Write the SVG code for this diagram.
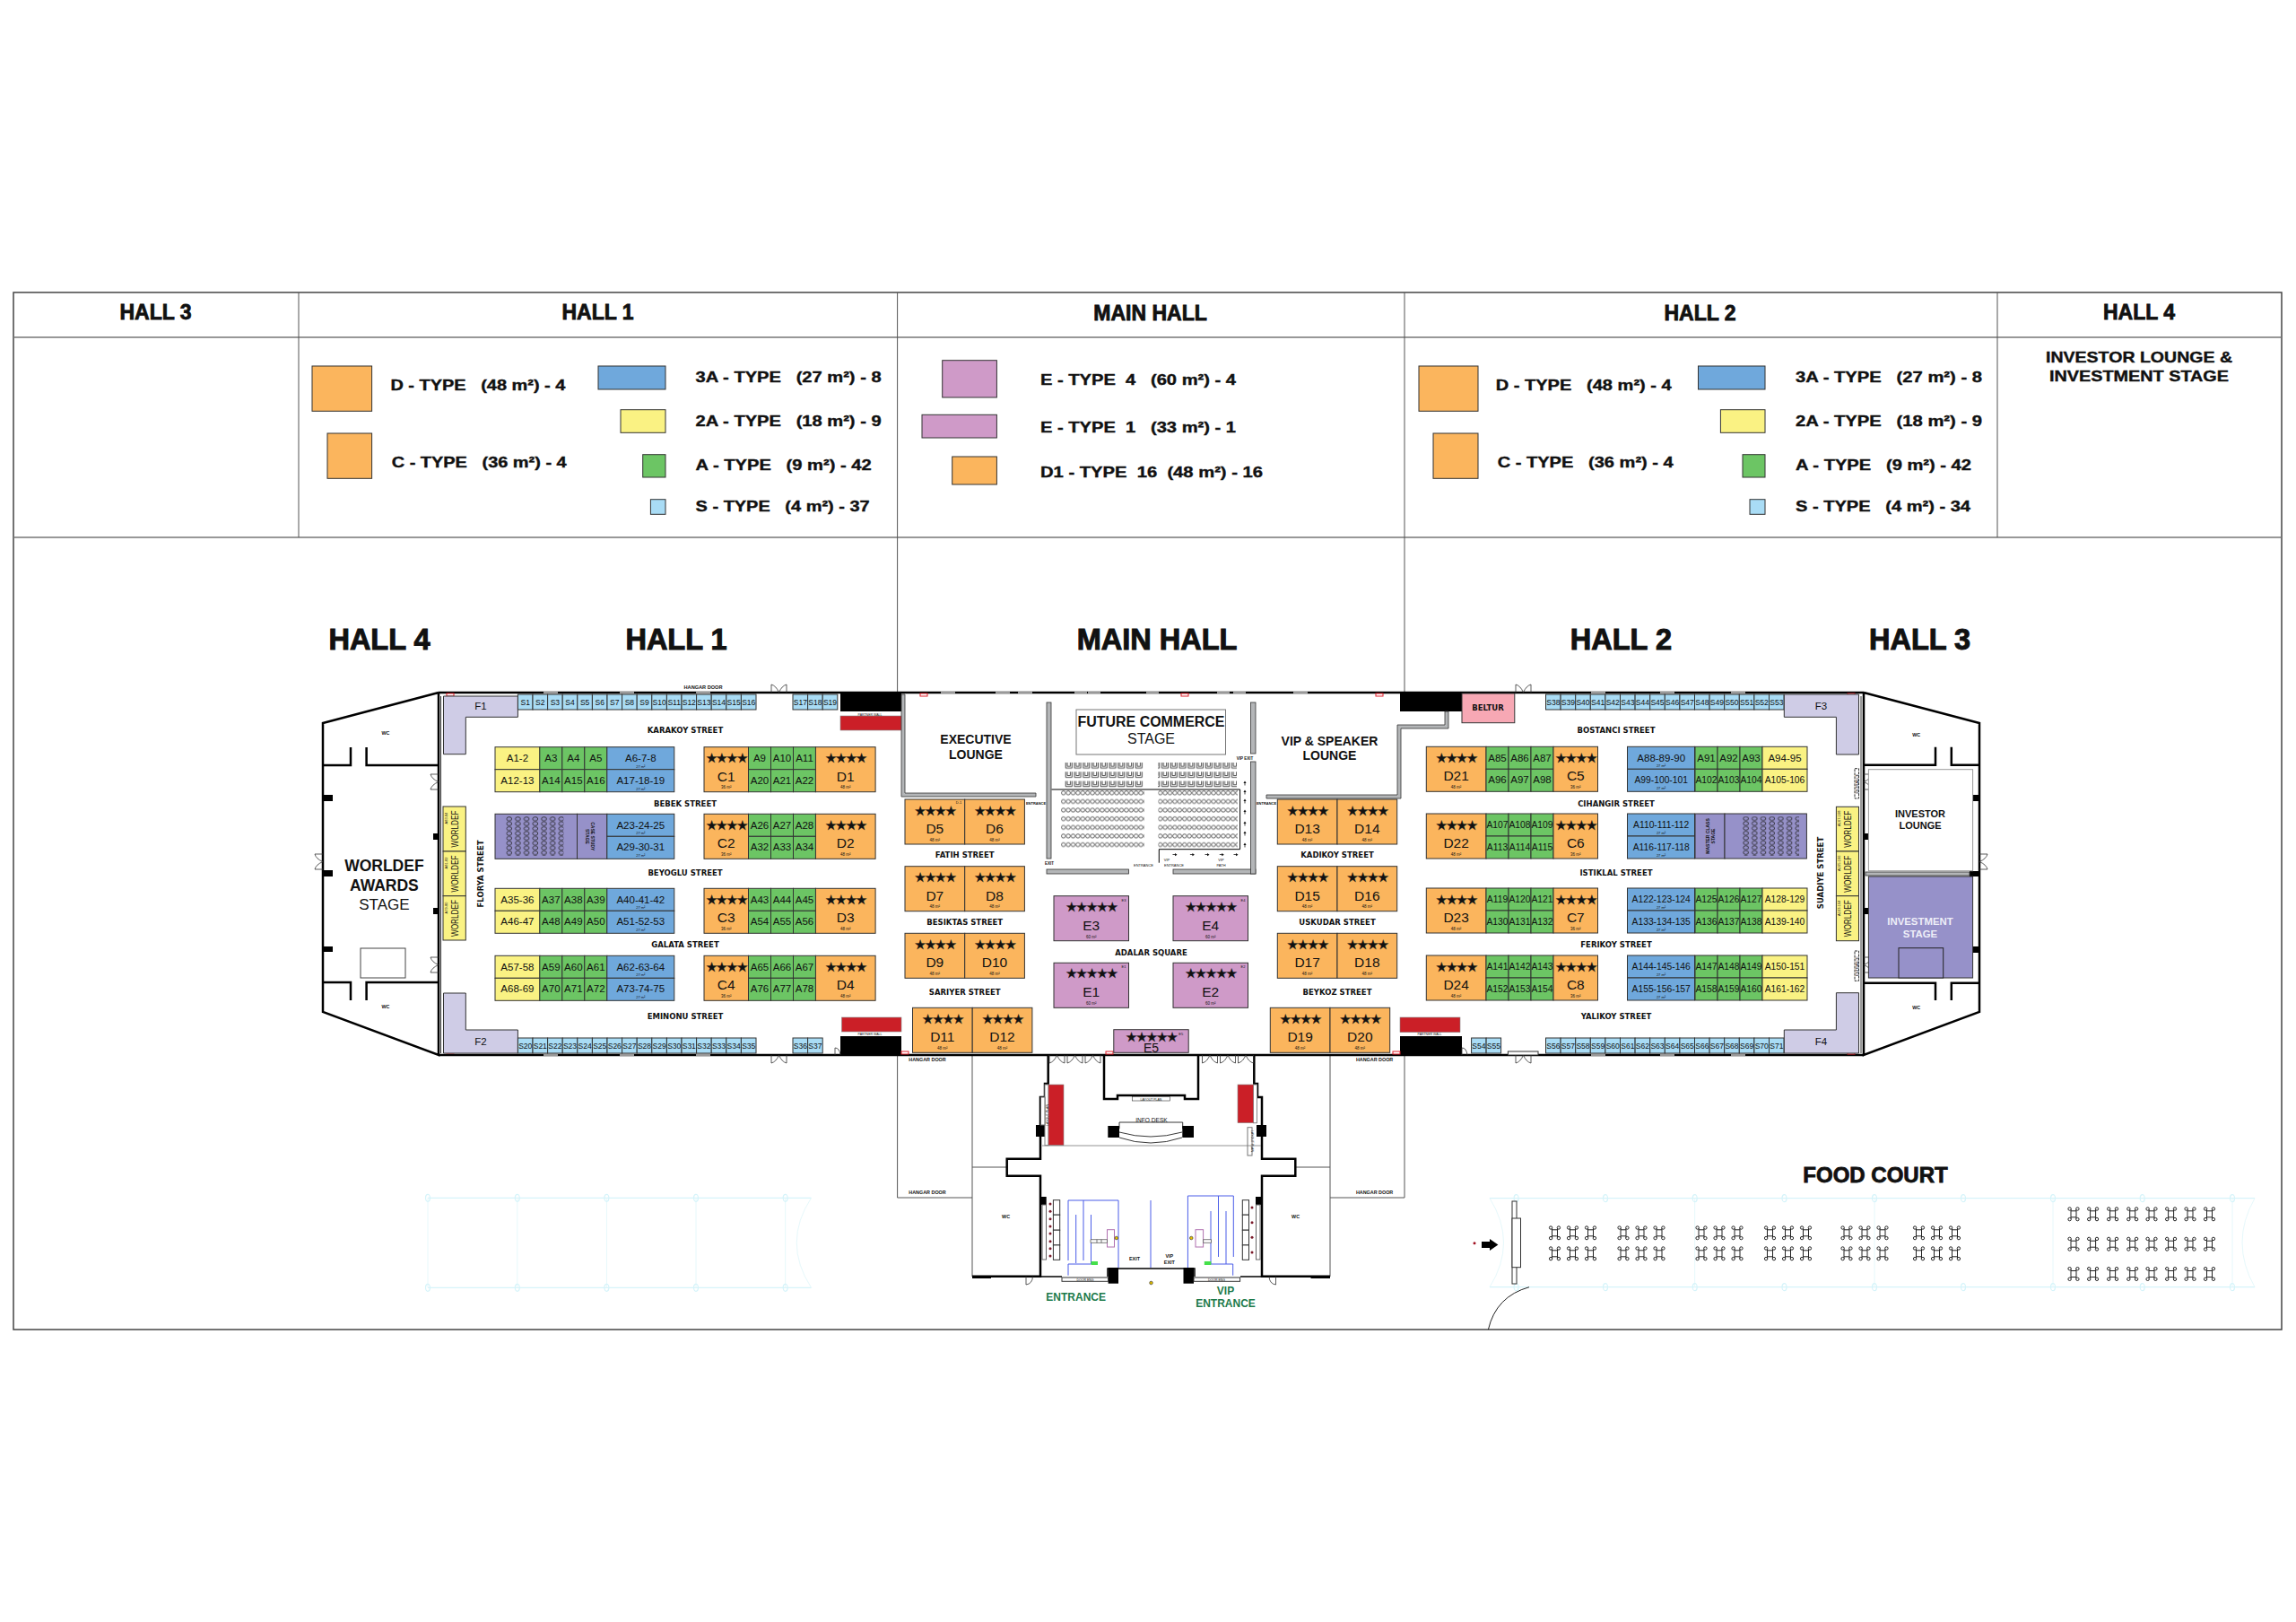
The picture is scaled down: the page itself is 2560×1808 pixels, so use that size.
<svg xmlns="http://www.w3.org/2000/svg" width="2560" height="1808" viewBox="0 0 2560 1808">
<style>
text{font-family:"Liberation Sans",Arial,sans-serif;text-anchor:middle;fill:#111}
.h{font-size:23px;font-weight:700;stroke:#111;stroke-width:.8}
.H{font-size:32.5px;font-weight:700;stroke:#111;stroke-width:1}
.lg{font-size:17px;font-weight:700;text-anchor:start;stroke:#111;stroke-width:.4;white-space:pre}
.k{font-family:"DejaVu Sans",sans-serif;font-size:8.5px;font-weight:700}
.a{font-size:11.5px}.a3{font-size:10.3px}.n{font-size:15.5px}.m{font-size:4.5px}.sl{font-size:8.5px}.t{font-size:4px}
.tb{font-size:5.4px;font-weight:700}
.wd{font-size:11px}
.star{font-family:"DejaVu Sans",sans-serif;font-size:14.5px;letter-spacing:-1.6px;stroke:#111;stroke-width:.3}
.o,.g,.y,.b,.s,.p,.v,.vv{stroke:#333;stroke-width:1}
rect.w:not([stroke]){stroke:#333}
.o{fill:#fbb55d}.g{fill:#6cc564}.y{fill:#faf283}.b{fill:#6fa8dc}.s{fill:#a9dcf5}.p{fill:#cf9ac8}.v{fill:#cfcce6}.vv{fill:#9691c9}.w{fill:#fff}
.r{fill:#cb1f27;stroke:#888;stroke-width:.6}.K{fill:#000}.gy{fill:#b4b6b8;stroke:#333;stroke-width:.8}
.L{fill:none;stroke:#000;stroke-width:2.5}.T{fill:none;stroke:#555;stroke-width:1}.bl{fill:none;stroke:#4a5de8;stroke-width:1}
.fc{fill:none;stroke:#d6f4fa;stroke-width:1.2}.fc2{fill:none;stroke:#e6f8fb;stroke-width:1}
.mk{fill:#fff;stroke:#e01f2a;stroke-width:1}
.d{fill:none;stroke:#333;stroke-width:.8}
.tick{fill:#999}
</style>
<defs>
<pattern id="rings" width="5.4" height="9.62" patternUnits="userSpaceOnUse" x="1183" y="881"><circle cx="2.7" cy="2.8" r="2.2" fill="#fff" stroke="#222" stroke-width=".7"/></pattern>
<pattern id="chairs" width="9.75" height="10.3" patternUnits="userSpaceOnUse" x="1187" y="849"><path d="M1.2 1V7.2H8.2V1M3 1V5.2H6.4V1" fill="#fff" stroke="#222" stroke-width=".8"/></pattern>
<pattern id="cols" width="9.7" height="5.4" patternUnits="userSpaceOnUse" x="564" y="910"><ellipse cx="4.6" cy="2.7" rx="2.9" ry="2.1" fill="none" stroke="#222" stroke-width=".8"/></pattern>
<g id="C"><rect class="o" width="49.5" height="50"/><text class="star" x="24.75" y="17.5">★★★★</text><text class="m" x="24.75" y="46.5">36 m²</text></g>
<g id="D"><rect class="o" width="66.7" height="50"/><text class="star" x="33.3" y="17.5">★★★★</text><text class="m" x="33.3" y="46.5">48 m²</text></g>
<g id="E"><rect class="p" width="83.5" height="50"/><text class="star" x="41.7" y="17">★★★★★</text><text class="m" x="41.7" y="47">60 m²</text></g>
<g id="G3"><rect class="g" width="25" height="25"/><rect class="g" x="25" width="25" height="25"/><rect class="g" x="50" width="25" height="25"/><rect class="g" y="25" width="25" height="25"/><rect class="g" x="25" y="25" width="25" height="25"/><rect class="g" x="50" y="25" width="25" height="25"/></g>
<g id="Bb"><rect class="b" width="75" height="25"/><rect class="b" y="25" width="75" height="25"/></g>
<g id="Yy"><rect class="y" width="50" height="25"/><rect class="y" y="25" width="50" height="25"/></g>
<g id="cd1"><use href="#C"/><use href="#G3" x="49.5"/><use href="#D" x="124.4"/></g>
<g id="dc2"><use href="#D"/><use href="#G3" x="66.7"/><use href="#C" x="141.7"/></g>
<g id="h1a"><use href="#Yy"/><use href="#G3" x="49.8"/><use href="#Bb" x="124.8"/></g>
<g id="h2a"><use href="#Bb"/><use href="#G3" x="75.5"/><use href="#Yy" x="150.5"/></g>
<g id="bm"><text class="t" x="37.5" y="23">27 m²</text><text class="t" x="37.5" y="48">27 m²</text></g>
<g id="s16"><rect class="s" width="16.6" height="17"/><rect class="s" x="16.6" width="16.6" height="17"/><rect class="s" x="33.2" width="16.6" height="17"/><rect class="s" x="49.8" width="16.6" height="17"/><rect class="s" x="66.4" width="16.6" height="17"/><rect class="s" x="83" width="16.6" height="17"/><rect class="s" x="99.6" width="16.6" height="17"/><rect class="s" x="116.2" width="16.6" height="17"/><rect class="s" x="132.8" width="16.6" height="17"/><rect class="s" x="149.4" width="16.6" height="17"/><rect class="s" x="166" width="16.6" height="17"/><rect class="s" x="182.6" width="16.6" height="17"/><rect class="s" x="199.2" width="16.6" height="17"/><rect class="s" x="215.8" width="16.6" height="17"/><rect class="s" x="232.4" width="16.6" height="17"/><rect class="s" x="249" width="16.6" height="17"/></g>
<path id="dd" class="d" d="M0 0V9Q5.5 7.5 8.5 0M17 0V9Q11.5 7.5 8.5 0"/>
<path id="ua" d="M0 -2.5L1.6 0H.4V2.5H-.4V0H-1.6Z" fill="#111"/>
<path id="ra" d="M2.5 0L0 -1.6V-.4H-2.5V.4H0V1.6Z" fill="#111"/>
<g id="t1" fill="#fff" stroke="#222" stroke-width="1"><path d="M-3 -5.5V5.5M3 -5.5V5.5M-3 -3.5H3M-3 3.5H3" fill="none"/><circle cx="-4.4" cy="-5.8" r="1.7"/><circle cx="4.4" cy="-5.8" r="1.7"/><circle cx="-4.4" cy="5.8" r="1.7"/><circle cx="4.4" cy="5.8" r="1.7"/></g>
<g id="t3"><use href="#t1"/><use href="#t1" x="20"/><use href="#t1" x="40"/></g>
<g id="t6"><use href="#t3"/><use href="#t3" y="23"/></g>
<g id="t8"><use href="#t1"/><use href="#t1" x="21.6"/><use href="#t1" x="43.6"/><use href="#t1" x="65.7"/><use href="#t1" x="87"/><use href="#t1" x="108.6"/><use href="#t1" x="130"/><use href="#t1" x="151.5"/></g>
<ellipse id="nd" rx="2.5" ry="4" class="fc"/>
</defs>
<rect width="2560" height="1808" fill="#fff"/>

<g id="table-frame">
<rect x="15" y="326" width="2529" height="1156" fill="none" stroke="#444" stroke-width="1.5"/>
<path d="M15 376H2544M15 599H2544" fill="none" stroke="#777" stroke-width="1.5"/>
<path class="T" d="M333 326V599M2227 326V599M1000.6 326V772M1566 326V772M1000.6 1176V1335H1084M1566 1176V1335H1483M1084 1176V1423M1483 1176V1423M1084 1301H1122M1444 1301H1483"/>
<text class="h" x="173.500" y="356">HALL 3</text>
<text class="h" x="666.500" y="356">HALL 1</text>
<text class="h" x="1282.600" y="357">MAIN HALL</text>
<text class="h" x="1895.500" y="357">HALL 2</text>
<text class="h" x="2385" y="356">HALL 4</text>
<text class="lg" style="text-anchor:middle" x="2385" y="404" textLength="208" lengthAdjust="spacingAndGlyphs">INVESTOR LOUNGE &amp;</text>
<text class="lg" style="text-anchor:middle" x="2385" y="425" textLength="200" lengthAdjust="spacingAndGlyphs">INVESTMENT STAGE</text>
</g>

<g id="legend">
<rect class="o" x="348" y="408" width="66.6" height="50.3"/><rect class="o" x="365" y="483" width="49.6" height="50.3"/>
<rect class="b" x="667" y="408" width="75" height="26"/><rect class="y" x="692" y="456.7" width="50" height="25.6"/><rect class="g" x="716.7" y="506.7" width="25.3" height="25.3"/><rect class="s" x="725.4" y="556.7" width="16.6" height="16.6"/>
<text class="lg" x="435.4" y="435" textLength="195" lengthAdjust="spacingAndGlyphs">D - TYPE   (48 m²) - 4</text>
<text class="lg" x="436.7" y="520.5" textLength="195" lengthAdjust="spacingAndGlyphs">C - TYPE   (36 m²) - 4</text>
<text class="lg" x="775.6" y="426" textLength="207" lengthAdjust="spacingAndGlyphs">3A - TYPE   (27 m²) - 8</text>
<text class="lg" x="775.6" y="474.5" textLength="207" lengthAdjust="spacingAndGlyphs">2A - TYPE   (18 m²) - 9</text>
<text class="lg" x="775.6" y="524" textLength="196" lengthAdjust="spacingAndGlyphs">A - TYPE   (9 m²) - 42</text>
<text class="lg" x="775.6" y="569.5" textLength="194" lengthAdjust="spacingAndGlyphs">S - TYPE   (4 m²) - 37</text>
<text class="lg" x="1160" y="429" textLength="218" lengthAdjust="spacingAndGlyphs">E - TYPE  4   (60 m²) - 4</text>
<text class="lg" x="1160" y="482" textLength="218" lengthAdjust="spacingAndGlyphs">E - TYPE  1   (33 m²) - 1</text>
<text class="lg" x="1160" y="532" textLength="248" lengthAdjust="spacingAndGlyphs">D1 - TYPE  16  (48 m²) - 16</text>
<text class="lg" x="1667.7" y="435" textLength="196" lengthAdjust="spacingAndGlyphs">D - TYPE   (48 m²) - 4</text>
<text class="lg" x="1669.7" y="520.5" textLength="196" lengthAdjust="spacingAndGlyphs">C - TYPE   (36 m²) - 4</text>
<text class="lg" x="2002" y="426" textLength="208" lengthAdjust="spacingAndGlyphs">3A - TYPE   (27 m²) - 8</text>
<text class="lg" x="2002" y="474.5" textLength="208" lengthAdjust="spacingAndGlyphs">2A - TYPE   (18 m²) - 9</text>
<text class="lg" x="2002" y="524" textLength="196" lengthAdjust="spacingAndGlyphs">A - TYPE   (9 m²) - 42</text>
<text class="lg" x="2002" y="569.5" textLength="195" lengthAdjust="spacingAndGlyphs">S - TYPE   (4 m²) - 34</text>
<rect class="p" x="1050.7" y="401.7" width="60.7" height="41.3"/><rect class="p" x="1028" y="462.3" width="83.4" height="25.7"/><rect class="o" x="1061.7" y="509" width="49.7" height="31"/>
<rect class="o" x="1582" y="408" width="66" height="50.3"/><rect class="o" x="1598" y="483" width="50" height="50.3"/>
<rect class="b" x="1893.5" y="408" width="74.5" height="26"/><rect class="y" x="1918.4" y="456.7" width="49.6" height="25.6"/><rect class="g" x="1943" y="506.7" width="25" height="25.3"/><rect class="s" x="1951" y="556.7" width="17" height="16.6"/>
</g>

<g id="hall-titles">
<text class="H" x="423" y="724">HALL 4</text><text class="H" x="754" y="724">HALL 1</text><text class="H" x="1290" y="724">MAIN HALL</text><text class="H" x="1807.4" y="724">HALL 2</text><text class="H" x="2140.6" y="724">HALL 3</text>
<text class="H" style="font-size:24px;stroke-width:.8" x="2091" y="1317.5">FOOD COURT</text>
</g>

<g id="walls">
<path class="L" d="M489 772H2078M489 1176H2078"/>
<path class="L" d="M489 772L360 806V1128L489 1176V772M2078 772L2207 806V1128L2078 1176V772"/>
<path d="M491.5 776V1174M2075 776V1174" fill="none" stroke="#333" stroke-width="1"/>
<path class="L" d="M360 853H391V833M408.6 833V853H489M360 1095H391V1115M408.6 1115V1095H489M2078 852.7H2158V832.7M2175.8 832.700V852.7H2207M2078 1095.7H2158V1115M2175.8 1115V1095.7H2207"/>
<g><rect class="K" x="360" y="886" width="11" height="7"/><rect class="K" x="360" y="970" width="11" height="7"/><rect class="K" x="360" y="1055" width="11" height="6"/><rect class="K" x="483" y="929" width="6" height="7"/><rect class="K" x="483" y="1012" width="6" height="7"/>
<rect class="K" x="2196" y="886" width="11" height="7"/><rect class="K" x="2196" y="971" width="11" height="6"/><rect class="K" x="2196" y="1055" width="11" height="7"/><rect class="K" x="2077" y="929" width="6" height="7"/><rect class="K" x="2077" y="1012" width="6" height="7"/>
<rect class="K" x="937" y="772" width="68" height="21"/><rect class="K" x="937" y="1155" width="68" height="21"/><rect class="K" x="1561" y="772" width="69" height="21"/><rect class="K" x="1561" y="1155" width="69" height="21"/></g>
<rect class="r" x="937" y="798" width="68" height="16"/><rect class="r" x="938.5" y="1134" width="66.5" height="16"/><rect class="r" x="1561" y="1134" width="67" height="16.7"/>
<text class="t" x="970" y="797.5" style="font-size:3.5px">PARTNER WALL</text><text class="t" x="970" y="1154" style="font-size:3.5px">PARTNER WALL</text><text class="t" x="1594" y="1154" style="font-size:3.5px">PARTNER WALL</text>
<path class="tick" d="M606 771h16v2h-16zM691 771h16v2h-16zM776 771h16v2h-16zM606 1175h16v2h-16zM691 1175h16v2h-16zM776 1175h16v2h-16zM1049 771h16v2h-16zM1110 771h16v2h-16zM1135 771h16v2h-16zM1198 771h14v2h-14zM1213 771h14v2h-14zM1278 771h14v2h-14zM1357 771h14v2h-14zM1375 771h14v2h-14zM1442 771h16v2h-16zM1774 771h16v2h-16zM1851 771h16v2h-16zM1930 771h16v2h-16zM1774 1175h16v2h-16zM1851 1175h16v2h-16zM1930 1175h16v2h-16z"/>
<rect class="mk" x="498" y="773" width="8" height="3"/><rect class="mk" x="498" y="1171" width="8" height="3"/><rect class="mk" x="1026" y="773" width="8" height="3"/><rect class="mk" x="1317" y="773" width="8" height="3"/><rect class="mk" x="1534" y="773" width="8" height="3"/><rect class="mk" x="1005" y="1172" width="8" height="3"/><rect class="mk" x="1233" y="1172" width="8" height="3"/><rect class="mk" x="1553" y="1172" width="8" height="3"/><rect class="mk" x="2060" y="773" width="8" height="2"/><rect class="mk" x="2060" y="1172" width="8" height="3"/>
<use href="#dd" transform="translate(860 772) scale(1 -1)"/><use href="#dd" x="860" y="1176"/><use href="#dd" x="1690" y="1176"/><use href="#dd" transform="translate(1690 772) scale(1 -1)"/>
<rect class="w" x="1681.4" y="1172" width="33.6" height="4"/>
<use href="#dd" transform="translate(489 863) rotate(90)"/><use href="#dd" transform="translate(489 1067) rotate(90)"/><use href="#dd" transform="translate(360 952) rotate(90)"/>
<use href="#dd" transform="translate(2078 880) rotate(-90)"/><use href="#dd" transform="translate(2078 1084) rotate(-90)"/><use href="#dd" transform="translate(2207 969) rotate(-90)"/>
<path class="d" d="M931 1176V1168Q936 1168 937 1176M1630 1176V1168Q1635 1168 1636 1176"/>
<text class="tb" x="784" y="768" style="font-size:5.6px">HANGAR DOOR</text>
</g>

<g id="hall-4">
<text class="tb" x="430" y="819">WC</text><text class="tb" x="430" y="1124">WC</text>
<rect class="w" x="402" y="1057" width="50" height="33" stroke="#444"/>
<text x="428.4" y="971" style="font-size:17.500px;font-weight:700">WORLDEF</text><text x="428.4" y="992.5" style="font-size:17.500px;font-weight:700">AWARDS</text><text x="428.4" y="1014" style="font-size:17px">STAGE</text>
</g>

<g id="hall-1">
<polygon class="v" points="494.5,776 577.4,776 577.4,799.3 519.3,799.3 519.3,840.7 494.5,840.7"/><text x="536" y="791" style="font-size:11.5px">F1</text>
<polygon class="v" points="494.5,1107 519.3,1107 519.3,1148 577.4,1148 577.4,1174 494.5,1174"/><text x="536" y="1165" style="font-size:11.5px">F2</text>
<g transform="translate(577.4 774)"><use href="#s16"/><text class="sl" x="8.3" y="11.5">S1</text><text class="sl" x="24.9" y="11.5">S2</text><text class="sl" x="41.5" y="11.5">S3</text><text class="sl" x="58.1" y="11.5">S4</text><text class="sl" x="74.7" y="11.5">S5</text><text class="sl" x="91.3" y="11.5">S6</text><text class="sl" x="107.9" y="11.5">S7</text><text class="sl" x="124.5" y="11.5">S8</text><text class="sl" x="141.1" y="11.5">S9</text><text class="sl" x="157.7" y="11.5">S10</text><text class="sl" x="174.3" y="11.5">S11</text><text class="sl" x="190.9" y="11.5">S12</text><text class="sl" x="207.5" y="11.5">S13</text><text class="sl" x="224.1" y="11.5">S14</text><text class="sl" x="240.7" y="11.5">S15</text><text class="sl" x="257.3" y="11.5">S16</text></g>
<g transform="translate(884 774)"><rect class="s" width="16.6" height="17"/><rect class="s" x="16.6" width="16.6" height="17"/><rect class="s" x="33.2" width="16.6" height="17"/><text class="sl" x="8.3" y="11.5">S17</text><text class="sl" x="24.9" y="11.5">S18</text><text class="sl" x="41.5" y="11.5">S19</text></g>
<g transform="translate(577.4 1157)"><use href="#s16"/><text class="sl" x="8.3" y="11.5">S20</text><text class="sl" x="24.9" y="11.5">S21</text><text class="sl" x="41.5" y="11.5">S22</text><text class="sl" x="58.1" y="11.5">S23</text><text class="sl" x="74.7" y="11.5">S24</text><text class="sl" x="91.3" y="11.5">S25</text><text class="sl" x="107.9" y="11.5">S26</text><text class="sl" x="124.5" y="11.5">S27</text><text class="sl" x="141.1" y="11.5">S28</text><text class="sl" x="157.7" y="11.5">S29</text><text class="sl" x="174.3" y="11.5">S30</text><text class="sl" x="190.9" y="11.5">S31</text><text class="sl" x="207.5" y="11.5">S32</text><text class="sl" x="224.1" y="11.5">S33</text><text class="sl" x="240.7" y="11.5">S34</text><text class="sl" x="257.3" y="11.5">S35</text></g>
<g transform="translate(884 1157)"><rect class="s" width="16.6" height="17"/><rect class="s" x="16.6" width="16.6" height="17"/><text class="sl" x="8.3" y="11.5">S36</text><text class="sl" x="24.9" y="11.5">S37</text></g>

<g transform="translate(494 899)"><rect class="y" width="25.3" height="50"/><rect class="y" y="50" width="25.3" height="49.7"/><rect class="y" y="99.7" width="25.3" height="49.3"/>
<text class="wd" transform="translate(16.500 25) rotate(-90)" textLength="41" lengthAdjust="spacingAndGlyphs">WORLDEF</text><text class="wd" transform="translate(16.500 75) rotate(-90)" textLength="41" lengthAdjust="spacingAndGlyphs">WORLDEF</text><text class="wd" transform="translate(16.500 124.500) rotate(-90)" textLength="41" lengthAdjust="spacingAndGlyphs">WORLDEF</text>
<text class="t" transform="translate(4.500 13) rotate(-90)">A83-84</text><text class="t" transform="translate(4.500 63) rotate(-90)">A81-82</text><text class="t" transform="translate(4.500 113) rotate(-90)">A79-80</text></g>
<text class="k" transform="translate(538.5 974) rotate(-90)">FLORYA STREET</text>

<text class="k" x="764" y="816.5">KARAKOY STREET</text><text class="k" x="764" y="898.5">BEBEK STREET</text><text class="k" x="764" y="976">BEYOGLU STREET</text><text class="k" x="764" y="1056">GALATA STREET</text><text class="k" x="764" y="1136">EMINONU STREET</text>

<g transform="translate(552 832.7)"><use href="#h1a"/><text class="a" x="24.9" y="16.3">A1-2</text><text class="a" x="62.3" y="16.3">A3</text><text class="a" x="87.3" y="16.3">A4</text><text class="a" x="112.3" y="16.3">A5</text><text class="a" x="162.3" y="16.3">A6-7-8</text><text class="a" x="24.9" y="41">A12-13</text><text class="a" x="62.3" y="41">A14</text><text class="a" x="87.3" y="41">A15</text><text class="a" x="112.3" y="41">A16</text><text class="a" x="162.3" y="41">A17-18-19</text><use href="#bm" x="124.8"/></g>
<g transform="translate(552 907.3)"><rect class="vv" width="91.5" height="50"/><rect class="vv" x="91.5" width="33.3" height="50"/><rect width="64" height="44" x="12.3" y="2.7" fill="url(#cols)"/><use href="#Bb" x="124.8"/><text transform="translate(106 25) rotate(90)" style="font-size:5px;font-weight:700"><tspan x="0" y="-1">CASE STUDY</tspan><tspan x="0" y="5">STAGE</tspan></text><text class="a" x="162.3" y="16.3">A23-24-25</text><text class="a" x="162.3" y="41">A29-30-31</text><use href="#bm" x="124.8"/></g>
<g transform="translate(552 990.3)"><use href="#h1a"/><text class="a" x="24.9" y="16.3">A35-36</text><text class="a" x="62.3" y="16.3">A37</text><text class="a" x="87.3" y="16.3">A38</text><text class="a" x="112.3" y="16.3">A39</text><text class="a" x="162.3" y="16.3">A40-41-42</text><text class="a" x="24.9" y="41">A46-47</text><text class="a" x="62.3" y="41">A48</text><text class="a" x="87.3" y="41">A49</text><text class="a" x="112.3" y="41">A50</text><text class="a" x="162.3" y="41">A51-52-53</text><use href="#bm" x="124.8"/></g>
<g transform="translate(552 1065.3)"><use href="#h1a"/><text class="a" x="24.9" y="16.3">A57-58</text><text class="a" x="62.3" y="16.3">A59</text><text class="a" x="87.3" y="16.3">A60</text><text class="a" x="112.3" y="16.3">A61</text><text class="a" x="162.3" y="16.3">A62-63-64</text><text class="a" x="24.9" y="41">A68-69</text><text class="a" x="62.3" y="41">A70</text><text class="a" x="87.3" y="41">A71</text><text class="a" x="112.3" y="41">A72</text><text class="a" x="162.3" y="41">A73-74-75</text><use href="#bm" x="124.8"/></g>

<g transform="translate(785 832.7)"><use href="#cd1"/><text class="n" x="24.75" y="38">C1</text><text class="n" x="157.7" y="38">D1</text><text class="a" x="62" y="16.3">A9</text><text class="a" x="87" y="16.3">A10</text><text class="a" x="112" y="16.3">A11</text><text class="a" x="62" y="41">A20</text><text class="a" x="87" y="41">A21</text><text class="a" x="112" y="41">A22</text></g>
<g transform="translate(785 907.3)"><use href="#cd1"/><text class="n" x="24.75" y="38">C2</text><text class="n" x="157.7" y="38">D2</text><text class="a" x="62" y="16.3">A26</text><text class="a" x="87" y="16.3">A27</text><text class="a" x="112" y="16.3">A28</text><text class="a" x="62" y="41">A32</text><text class="a" x="87" y="41">A33</text><text class="a" x="112" y="41">A34</text></g>
<g transform="translate(785 990.3)"><use href="#cd1"/><text class="n" x="24.75" y="38">C3</text><text class="n" x="157.7" y="38">D3</text><text class="a" x="62" y="16.3">A43</text><text class="a" x="87" y="16.3">A44</text><text class="a" x="112" y="16.3">A45</text><text class="a" x="62" y="41">A54</text><text class="a" x="87" y="41">A55</text><text class="a" x="112" y="41">A56</text></g>
<g transform="translate(785 1065.3)"><use href="#cd1"/><text class="n" x="24.75" y="38">C4</text><text class="n" x="157.7" y="38">D4</text><text class="a" x="62" y="16.3">A65</text><text class="a" x="87" y="16.3">A66</text><text class="a" x="112" y="16.3">A67</text><text class="a" x="62" y="41">A76</text><text class="a" x="87" y="41">A77</text><text class="a" x="112" y="41">A78</text></g>
</g>

<g id="main-hall">
<path class="gy" d="M1005 774H1009V884H1155V888H1005Z"/>
<rect class="gy" x="1167" y="783" width="5" height="174"/><rect class="gy" x="1167" y="969" width="91.6" height="5"/><rect class="gy" x="1308" y="969" width="92" height="5"/><rect class="gy" x="1394.5" y="849" width="5.5" height="125"/><rect class="gy" x="1394.5" y="783" width="5.5" height="57"/>
<path class="gy" d="M1412 886H1558V808H1611V793H1615V812H1562V890H1412Z"/>
<text x="1088" y="829" style="font-size:14px;font-weight:700">EXECUTIVE</text><text x="1088" y="846" style="font-size:14px;font-weight:700">LOUNGE</text>
<text x="1482.5" y="830.5" style="font-size:14px;font-weight:700">VIP &amp; SPEAKER</text><text x="1482.5" y="847" style="font-size:14px;font-weight:700">LOUNGE</text>
<rect class="w" x="1200" y="791" width="166.5" height="50" stroke="#777"/>
<text x="1283.5" y="809.5" textLength="164" lengthAdjust="spacingAndGlyphs" style="font-size:16px;font-weight:700">FUTURE COMMERCE</text><text x="1283.5" y="829" style="font-size:16px">STAGE</text>
<rect x="1187" y="849" width="88" height="31" fill="url(#chairs)"/><rect x="1291" y="849" width="88" height="31" fill="url(#chairs)"/>
<rect x="1183" y="881" width="92.9" height="66" fill="url(#rings)"/><rect x="1291.4" y="881" width="88.6" height="66" fill="url(#rings)"/>
<path d="M1172.5 880H1382.6V946.7H1292.3V961.7" fill="none" stroke="#000" stroke-width="1"/>
<use href="#ua" x="1388" y="873"/><use href="#ua" x="1388" y="883"/><use href="#ua" x="1388" y="893"/><use href="#ua" x="1388" y="905"/><use href="#ua" x="1388" y="918"/><use href="#ua" x="1388" y="929"/><use href="#ua" x="1388" y="942"/>
<use href="#ra" x="1310" y="952.7"/><use href="#ra" x="1329.4" y="952.7"/><use href="#ra" x="1346" y="952.7"/><use href="#ra" x="1362.3" y="952.7"/><use href="#ra" x="1378" y="952.7"/>
<text class="t" x="1155" y="896.5" style="font-weight:700">ENTRANCE</text><text class="t" x="1412" y="896.5" style="font-weight:700">ENTRANCE</text><text class="t" x="1388" y="847" style="font-weight:700;font-size:4.5px">VIP EXIT</text><text class="t" x="1170" y="964" style="font-weight:700;font-size:4.5px">EXIT</text><text class="t" x="1275" y="966">ENTRANCE</text><text class="t" x="1301" y="960">VIP</text><text class="t" x="1309" y="965.5">ENTRANCE</text><text class="t" x="1361.5" y="960">VIP</text><text class="t" x="1361.5" y="965.5">PATH</text>

<g transform="translate(1009 891)"><use href="#D"/><use href="#D" x="66.7"/><text class="n" x="33.3" y="38">D5</text><text class="n" x="100" y="38">D6</text><text class="t" x="60" y="5">D-1</text></g>
<g transform="translate(1009 965.7)"><use href="#D"/><use href="#D" x="66.7"/><text class="n" x="33.3" y="38">D7</text><text class="n" x="100" y="38">D8</text></g>
<g transform="translate(1009 1040.3)"><use href="#D"/><use href="#D" x="66.7"/><text class="n" x="33.3" y="38">D9</text><text class="n" x="100" y="38">D10</text></g>
<g transform="translate(1017.5 1123.3)"><use href="#D"/><use href="#D" x="66.7"/><text class="n" x="33.3" y="38">D11</text><text class="n" x="100" y="38">D12</text></g>
<g transform="translate(1424.3 891)"><use href="#D"/><use href="#D" x="66.7"/><text class="n" x="33.3" y="38">D13</text><text class="n" x="100" y="38">D14</text></g>
<g transform="translate(1424.3 965.7)"><use href="#D"/><use href="#D" x="66.7"/><text class="n" x="33.3" y="38">D15</text><text class="n" x="100" y="38">D16</text></g>
<g transform="translate(1424.3 1040.3)"><use href="#D"/><use href="#D" x="66.7"/><text class="n" x="33.3" y="38">D17</text><text class="n" x="100" y="38">D18</text></g>
<g transform="translate(1416.3 1123.3)"><use href="#D"/><use href="#D" x="66.7"/><text class="n" x="33.3" y="38">D19</text><text class="n" x="100" y="38">D20</text></g>
<g transform="translate(1175 998.7)"><use href="#E"/><text class="n" x="41.7" y="38">E3</text><text class="t" x="78" y="6">E3</text></g>
<g transform="translate(1308 998.7)"><use href="#E"/><text class="n" x="41.7" y="38">E4</text><text class="t" x="78" y="6">E4</text></g>
<g transform="translate(1175 1073.3)"><use href="#E"/><text class="n" x="41.7" y="38">E1</text><text class="t" x="78" y="6">E1</text></g>
<g transform="translate(1308 1073.3)"><use href="#E"/><text class="n" x="41.7" y="38">E2</text><text class="t" x="78" y="6">E2</text></g>
<g transform="translate(1241.8 1147.7)"><rect class="p" width="83.4" height="25.6"/><text class="star" x="41.7" y="13">★★★★★</text><text class="n" x="41.7" y="25.5" style="font-size:14px">E5</text><text class="t" x="75" y="6">E5</text></g>
<text class="k" x="1075.7" y="956">FATIH STREET</text><text class="k" x="1075.7" y="1031">BESIKTAS STREET</text><text class="k" x="1075.7" y="1109">SARIYER STREET</text><text class="k" x="1491" y="956">KADIKOY STREET</text><text class="k" x="1491" y="1031">USKUDAR STREET</text><text class="k" x="1491" y="1109">BEYKOZ STREET</text><text class="k" x="1283.5" y="1064.5">ADALAR SQUARE</text>
</g>

<g id="hall-2">
<rect class="v" style="fill:#f7a8b4" x="1630" y="773" width="58.8" height="32.7"/><text class="k" x="1659" y="791.5">BELTUR</text>
<g transform="translate(1723.5 774)"><use href="#s16"/><text class="sl" x="8.3" y="11.5">S38</text><text class="sl" x="24.9" y="11.5">S39</text><text class="sl" x="41.5" y="11.5">S40</text><text class="sl" x="58.1" y="11.5">S41</text><text class="sl" x="74.7" y="11.5">S42</text><text class="sl" x="91.3" y="11.5">S43</text><text class="sl" x="107.9" y="11.5">S44</text><text class="sl" x="124.5" y="11.5">S45</text><text class="sl" x="141.1" y="11.5">S46</text><text class="sl" x="157.7" y="11.5">S47</text><text class="sl" x="174.3" y="11.5">S48</text><text class="sl" x="190.9" y="11.5">S49</text><text class="sl" x="207.5" y="11.5">S50</text><text class="sl" x="224.1" y="11.5">S51</text><text class="sl" x="240.7" y="11.5">S52</text><text class="sl" x="257.3" y="11.5">S53</text></g>
<g transform="translate(1723.5 1157)"><use href="#s16"/><text class="sl" x="8.3" y="11.5">S56</text><text class="sl" x="24.9" y="11.5">S57</text><text class="sl" x="41.5" y="11.5">S58</text><text class="sl" x="58.1" y="11.5">S59</text><text class="sl" x="74.7" y="11.5">S60</text><text class="sl" x="91.3" y="11.5">S61</text><text class="sl" x="107.9" y="11.5">S62</text><text class="sl" x="124.5" y="11.5">S63</text><text class="sl" x="141.1" y="11.5">S64</text><text class="sl" x="157.7" y="11.5">S65</text><text class="sl" x="174.3" y="11.5">S66</text><text class="sl" x="190.9" y="11.5">S67</text><text class="sl" x="207.5" y="11.5">S68</text><text class="sl" x="224.1" y="11.5">S69</text><text class="sl" x="240.7" y="11.5">S70</text><text class="sl" x="257.3" y="11.5">S71</text></g>
<g transform="translate(1640.6 1157)"><rect class="s" width="16.5" height="17"/><rect class="s" x="16.5" width="16.5" height="17"/><text class="sl" x="8.3" y="11.5">S54</text><text class="sl" x="24.8" y="11.5">S55</text></g>
<polygon class="v" points="1989.3,774 2072.5,774 2072.5,841 2047.4,841 2047.4,799.3 1989.3,799.3"/><text x="2030.5" y="791" style="font-size:11.5px">F3</text>
<polygon class="v" points="1989.3,1174 2072.5,1174 2072.5,1106.7 2047.4,1106.7 2047.4,1148 1989.3,1148"/><text x="2030.5" y="1165" style="font-size:11.5px">F4</text>
<g transform="translate(2047.4 899.3)"><rect class="y" width="25.1" height="49.7"/><rect class="y" y="49.7" width="25.1" height="49.7"/><rect class="y" y="99.4" width="25.1" height="50"/>
<text class="wd" transform="translate(16.500 25) rotate(-90)" textLength="41" lengthAdjust="spacingAndGlyphs">WORLDEF</text><text class="wd" transform="translate(16.500 75) rotate(-90)" textLength="41" lengthAdjust="spacingAndGlyphs">WORLDEF</text><text class="wd" transform="translate(16.500 124.500) rotate(-90)" textLength="41" lengthAdjust="spacingAndGlyphs">WORLDEF</text>
<text class="t" transform="translate(4.500 13) rotate(-90)">A167-168</text><text class="t" transform="translate(4.500 63) rotate(-90)">A165-166</text><text class="t" transform="translate(4.500 113) rotate(-90)">A163-164</text></g>
<text class="k" transform="translate(2033 973) rotate(-90)">SUADIYE STREET</text>
<text class="k" x="1802" y="816.5">BOSTANCI STREET</text><text class="k" x="1802" y="898.5">CIHANGIR STREET</text><text class="k" x="1802" y="976">ISTIKLAL STREET</text><text class="k" x="1802" y="1056">FERIKOY STREET</text><text class="k" x="1802" y="1136">YALIKOY STREET</text>

<g transform="translate(1590.3 832.3)"><use href="#dc2"/><text class="n" x="33.3" y="38">D21</text><text class="n" x="166.5" y="38">C5</text><text class="a" x="79.2" y="16.3">A85</text><text class="a" x="104.2" y="16.3">A86</text><text class="a" x="129.2" y="16.3">A87</text><text class="a" x="79.2" y="41">A96</text><text class="a" x="104.2" y="41">A97</text><text class="a" x="129.2" y="41">A98</text></g>
<g transform="translate(1590.3 907)"><use href="#dc2"/><text class="n" x="33.3" y="38">D22</text><text class="n" x="166.5" y="38">C6</text><text class="a3" x="79.2" y="16.3">A107</text><text class="a3" x="104.2" y="16.3">A108</text><text class="a3" x="129.2" y="16.3">A109</text><text class="a3" x="79.2" y="41">A113</text><text class="a3" x="104.2" y="41">A114</text><text class="a3" x="129.2" y="41">A115</text></g>
<g transform="translate(1590.3 990)"><use href="#dc2"/><text class="n" x="33.3" y="38">D23</text><text class="n" x="166.5" y="38">C7</text><text class="a3" x="79.2" y="16.3">A119</text><text class="a3" x="104.2" y="16.3">A120</text><text class="a3" x="129.2" y="16.3">A121</text><text class="a3" x="79.2" y="41">A130</text><text class="a3" x="104.2" y="41">A131</text><text class="a3" x="129.2" y="41">A132</text></g>
<g transform="translate(1590.3 1065)"><use href="#dc2"/><text class="n" x="33.3" y="38">D24</text><text class="n" x="166.5" y="38">C8</text><text class="a3" x="79.2" y="16.3">A141</text><text class="a3" x="104.2" y="16.3">A142</text><text class="a3" x="129.2" y="16.3">A143</text><text class="a3" x="79.2" y="41">A152</text><text class="a3" x="104.2" y="41">A153</text><text class="a3" x="129.2" y="41">A154</text></g>

<g transform="translate(1814.5 832.3)"><use href="#h2a"/><use href="#bm"/><text class="a" x="37.7" y="16.3">A88-89-90</text><text class="a" x="88" y="16.3">A91</text><text class="a" x="113" y="16.3">A92</text><text class="a" x="138" y="16.3">A93</text><text class="a" x="175.5" y="16.3">A94-95</text><text class="a3" x="37.7" y="41">A99-100-101</text><text class="a3" x="88" y="41">A102</text><text class="a3" x="113" y="41">A103</text><text class="a3" x="138" y="41">A104</text><text class="a3" x="175.5" y="41">A105-106</text></g>
<g transform="translate(1814.5 907)"><use href="#Bb"/><use href="#bm"/><rect class="vv" x="75.5" width="33" height="50"/><rect class="vv" x="108.5" width="91.4" height="50"/><rect width="64" height="44" x="127.5" y="3" fill="url(#cols)"/><text transform="translate(92 25) rotate(-90)" style="font-size:5px;font-weight:700"><tspan x="0" y="-1">MASTER CLASS</tspan><tspan x="0" y="5">STAGE</tspan></text><text class="a3" x="37.7" y="16.3">A110-111-112</text><text class="a3" x="37.7" y="41">A116-117-118</text></g>
<g transform="translate(1814.5 990)"><use href="#h2a"/><use href="#bm"/><text class="a3" x="37.7" y="16.3">A122-123-124</text><text class="a3" x="88" y="16.3">A125</text><text class="a3" x="113" y="16.3">A126</text><text class="a3" x="138" y="16.3">A127</text><text class="a3" x="175.5" y="16.3">A128-129</text><text class="a3" x="37.7" y="41">A133-134-135</text><text class="a3" x="88" y="41">A136</text><text class="a3" x="113" y="41">A137</text><text class="a3" x="138" y="41">A138</text><text class="a3" x="175.5" y="41">A139-140</text></g>
<g transform="translate(1814.5 1065)"><use href="#h2a"/><use href="#bm"/><text class="a3" x="37.7" y="16.3">A144-145-146</text><text class="a3" x="88" y="16.3">A147</text><text class="a3" x="113" y="16.3">A148</text><text class="a3" x="138" y="16.3">A149</text><text class="a3" x="175.5" y="16.3">A150-151</text><text class="a3" x="37.7" y="41">A155-156-157</text><text class="a3" x="88" y="41">A158</text><text class="a3" x="113" y="41">A159</text><text class="a3" x="138" y="41">A160</text><text class="a3" x="175.5" y="41">A161-162</text></g>
</g>

<g id="hall-3">
<text class="tb" x="2136.7" y="821">WC</text><text class="tb" x="2136.7" y="1124.5">WC</text>
<rect class="w" x="2083.4" y="857.7" width="116.2" height="113" stroke="#999"/>
<rect class="gy" x="2080" y="972" width="116" height="4"/>
<text x="2141" y="911" style="font-size:11px;font-weight:700">INVESTOR</text><text x="2141" y="924" style="font-size:11px;font-weight:700">LOUNGE</text>
<rect class="vv" x="2083.4" y="977" width="116.2" height="113"/>
<text x="2141" y="1031" style="font-size:11.4px;font-weight:700;fill:#eeeef8">INVESTMENT</text><text x="2141" y="1045" style="font-size:11.4px;font-weight:700;fill:#eeeef8">STAGE</text>
<rect class="vv" x="2117" y="1056.7" width="49.7" height="33.3" style="stroke:#222"/>
<rect class="w" x="2068" y="856.7" width="4.5" height="33.3" stroke="#333" stroke-dasharray="3 1"/><rect class="w" x="2068" y="1060" width="4.5" height="33.3" stroke="#333" stroke-dasharray="3 1"/>
<text class="t" transform="translate(2071.5 873.5) rotate(-90)">ENTRANCE</text><text class="t" transform="translate(2071.5 1077) rotate(-90)">ENTRANCE</text>
</g>

<g id="entrance-lobby">
<path class="L" d="M1168.7 1176V1208H1165V1223H1160V1291.7H1122.7V1310.7H1160V1422.7H1084M1398.3 1176V1208H1402V1223H1407V1291.7H1444.3V1310.7H1407V1422.7H1483M1231 1177V1225H1246V1221H1321V1225H1336V1177"/>
<path d="M1160 1423H1184M1235 1423V1414H1332V1423M1383 1423H1407" fill="none" stroke="#000" stroke-width="1.5"/>
<rect class="K" x="1084" y="1422" width="21" height="3"/><rect class="K" x="1461.5" y="1422" width="21.5" height="3"/>
<rect class="K" x="1235.6" y="1413" width="11.4" height="17.7"/><rect class="K" x="1319.5" y="1413" width="11.5" height="17.7"/>
<rect class="K" x="1155" y="1254" width="10" height="13"/><rect class="K" x="1401" y="1254" width="11" height="13"/>
<rect class="K" x="1160" y="1334" width="6.7" height="9"/><rect class="K" x="1400" y="1334" width="6" height="9"/>
<rect class="w" x="1165" y="1209" width="4" height="67.7" stroke="#888"/><rect class="w" x="1397.5" y="1209" width="4" height="42.7" stroke="#888"/>
<rect class="w" x="1160.5" y="1223" width="4.5" height="31" stroke="#666"/><rect class="r" x="1169" y="1209" width="17" height="67.7"/><rect class="r" x="1380" y="1209" width="17.5" height="42.7"/>
<text class="t" transform="translate(1169 1243) rotate(-90)" style="font-size:3.5px">LAYOUT PLAN</text>
<rect class="w" x="1391" y="1256.7" width="5" height="31.3" stroke="#777"/><text class="t" transform="translate(1395 1272) rotate(90)" style="font-size:3.5px">LAYOUT PLAN</text>
<rect class="w" x="1262.5" y="1222.5" width="42" height="4.5" stroke-width=".6"/><text class="t" x="1283.5" y="1226.500" style="font-size:3.5px">LAYOUT PLAN</text>
<path d="M1162 1277H1406" fill="none" stroke="#777" stroke-width=".8"/>
<path d="M1248 1258V1251H1318.7V1258M1248 1262Q1283 1272 1318 1262M1248 1268Q1283 1280 1318 1268" fill="none" stroke="#222" stroke-width=".9"/>
<rect class="K" x="1235.3" y="1255" width="12.7" height="13"/><rect class="K" x="1318.3" y="1255" width="12.7" height="13"/>
<text x="1284" y="1250.5" style="font-size:6.6px">INFO DESK</text>
<use href="#dd" x="1170" y="1176"/><use href="#dd" x="1190" y="1176"/><use href="#dd" x="1210" y="1176"/><use href="#dd" x="1340.5" y="1176"/><use href="#dd" x="1360.5" y="1176"/><use href="#dd" x="1380.5" y="1176"/>
<path class="bl" d="M1191 1405V1338H1247V1413M1208 1338V1405M1199.7 1354V1408M1216.5 1354V1409M1191 1421.7V1409H1216.5M1283 1338V1413M1324.4 1413V1333H1375.3V1401M1358.5 1333V1401M1350 1350V1409M1367 1350V1409M1350 1409H1374.7V1421.7"/>
<rect x="1216.5" y="1406" width="7.5" height="4" fill="#44e04a"/><rect x="1342.8" y="1406" width="7.5" height="4" fill="#44e04a"/>
<rect class="w" x="1234.5" y="1370.7" width="8" height="19.3" stroke="#b070b0"/><rect class="w" x="1333" y="1370.7" width="8.6" height="19.3" stroke="#b070b0"/>
<path d="M1216 1381.7H1234.5V1385.3H1216ZM1341.6 1381.7H1350.5V1385.3H1341.6ZM1223 1381.7V1385.3M1228 1381.7V1385.3" fill="#fff" stroke="#444" stroke-width=".7"/>
<g fill="#e5c100" stroke="#222" stroke-width=".6"><circle cx="1244.8" cy="1380" r="1.8"/><circle cx="1328.3" cy="1380" r="1.8"/><circle cx="1283.5" cy="1430" r="1.8"/></g>
<rect class="w" x="1174.4" y="1337.7" width="7.3" height="16.5"/><rect class="w" x="1174.4" y="1354.2" width="7.3" height="17"/><rect class="w" x="1174.4" y="1371.2" width="7.3" height="16.7"/><rect class="w" x="1174.4" y="1387.9" width="7.3" height="16.4"/>
<rect class="w" x="1385.3" y="1337.7" width="7.2" height="16.5"/><rect class="w" x="1385.3" y="1354.2" width="7.2" height="17"/><rect class="w" x="1385.3" y="1371.2" width="7.2" height="16.7"/><rect class="w" x="1385.3" y="1387.9" width="7.2" height="16.4"/>
<rect class="w" x="1162" y="1343" width="4.5" height="61" stroke="#666"/><rect class="w" x="1400.5" y="1343" width="4.5" height="61" stroke="#666"/>
<g fill="#7a1a2a"><circle cx="1171" cy="1342" r="1.5"/><circle cx="1171" cy="1350.3" r="1.5"/><circle cx="1171" cy="1358.7" r="1.5"/><circle cx="1171" cy="1367" r="1.5"/><circle cx="1171" cy="1375" r="1.5"/><circle cx="1171" cy="1383.7" r="1.5"/><circle cx="1171" cy="1391.7" r="1.5"/><circle cx="1171" cy="1400" r="1.5"/><circle cx="1396" cy="1346" r="1.5"/><circle cx="1396" cy="1362.7" r="1.5"/><circle cx="1396" cy="1379.3" r="1.5"/><circle cx="1396" cy="1396" r="1.5"/></g>
<rect class="w" x="1184" y="1424" width="51.6" height="4.3"/><rect class="w" x="1331" y="1424" width="51.6" height="4.3"/>
<text class="t" x="1210" y="1427.7" style="font-size:3.5px">DOOR ENG</text><text class="t" x="1356.5" y="1427.7" style="font-size:3.5px">DOOR ENG</text>
<path class="d" d="M1144 1423V1432Q1151 1431 1151.5 1423M1422.5 1423V1432Q1415.500 1431 1415 1423"/>
<text class="tb" x="1121.6" y="1358">WC</text><text class="tb" x="1444.6" y="1358">WC</text>
<text class="tb" x="1034" y="1183">HANGAR DOOR</text><text class="tb" x="1034" y="1331">HANGAR DOOR</text><text class="tb" x="1532.6" y="1183">HANGAR DOOR</text><text class="tb" x="1532.6" y="1331">HANGAR DOOR</text>
<text class="tb" x="1265" y="1404.7">EXIT</text><text class="tb" x="1303.8" y="1402">VIP</text><text class="tb" x="1303.8" y="1409">EXIT</text>
<text x="1199.7" y="1449.5" style="font-size:12px;font-weight:700;fill:#1c7a4a">ENTRANCE</text><text x="1366.5" y="1442.5" style="font-size:12px;font-weight:700;fill:#1c7a4a">VIP</text><text x="1366.5" y="1456.5" style="font-size:12px;font-weight:700;fill:#1c7a4a">ENTRANCE</text>
</g>

<g id="food-court-west">
<path class="fc" d="M477 1335.3H904.5M477 1435.3H904.5"/>
<path class="fc2" d="M477 1335.3V1435.3M576.8 1335.3V1435.3M676.4 1335.3V1435.3M776 1335.3V1435.3M875.7 1335.3V1435.3M904.5 1335.3Q872 1385 904.5 1435.3"/>
<use href="#nd" x="477" y="1335.3"/><use href="#nd" x="576.8" y="1335.3"/><use href="#nd" x="676.4" y="1335.3"/><use href="#nd" x="776" y="1335.3"/><use href="#nd" x="875.7" y="1335.3"/><use href="#nd" x="477" y="1435.3"/><use href="#nd" x="576.8" y="1435.3"/><use href="#nd" x="676.4" y="1435.3"/><use href="#nd" x="776" y="1435.3"/><use href="#nd" x="875.7" y="1435.3"/>
</g>
<g id="food-court">
<path class="fc" d="M1661 1335.7H2514M1661 1434.7H2514"/>
<path class="fc2" d="M1889.7 1335.7V1434.7M2090 1335.7V1434.7M2289 1335.7V1434.7M2489 1335.7V1434.7M1661 1335.7Q1692 1385 1661 1434.7M2514 1335.7Q2486 1385 2514 1434.7"/>
<use href="#nd" x="1690.6" y="1335.7"/><use href="#nd" x="1790" y="1335.7"/><use href="#nd" x="1889.7" y="1335.7"/><use href="#nd" x="1989.5" y="1335.7"/><use href="#nd" x="2090" y="1335.7"/><use href="#nd" x="2189" y="1335.7"/><use href="#nd" x="2289" y="1335.7"/><use href="#nd" x="2388.7" y="1335.7"/><use href="#nd" x="2489" y="1335.7"/>
<use href="#nd" x="1690.6" y="1434.7"/><use href="#nd" x="1790" y="1434.7"/><use href="#nd" x="1889.7" y="1434.7"/><use href="#nd" x="1989.5" y="1434.7"/><use href="#nd" x="2090" y="1434.7"/><use href="#nd" x="2189" y="1434.7"/><use href="#nd" x="2289" y="1434.7"/><use href="#nd" x="2388.7" y="1434.7"/><use href="#nd" x="2489" y="1434.7"/>
<rect class="w" x="1686" y="1339" width="5" height="92"/><rect class="w" x="1686" y="1358" width="9.5" height="54.7"/>
<path d="M1652 1384H1661V1381L1670.4 1387.5L1661 1394V1391H1652Z" fill="#000"/><circle cx="1644" cy="1385.7" r="1.5" fill="#a01020"/>
<path d="M1705 1434.7Q1668 1445 1659.4 1482" fill="none" stroke="#222" stroke-width="1"/>
<use href="#t6" x="1733.5" y="1374.3"/><use href="#t6" x="1810" y="1374.3"/><use href="#t6" x="1897" y="1374.3"/><use href="#t6" x="1973.5" y="1374.3"/><use href="#t6" x="2059" y="1374.3"/><use href="#t6" x="2139.5" y="1374.3"/>
<use href="#t8" x="2312" y="1353.3"/><use href="#t8" x="2312" y="1386.7"/><use href="#t8" x="2312" y="1420"/>
</g>
</svg>
